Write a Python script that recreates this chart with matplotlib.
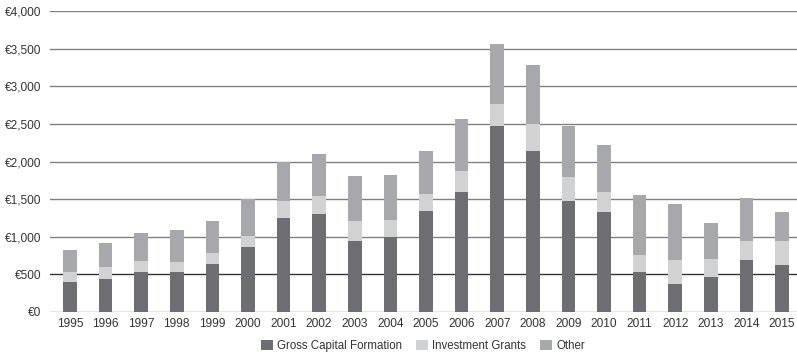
import numpy as np
import matplotlib
matplotlib.use("Agg")
import matplotlib.pyplot as plt
from matplotlib.ticker import FuncFormatter

years = list(range(1995, 2016))
# values in millions of euro, stacked: gross capital formation, investment grants, other
gross_capital = [395, 435, 528, 528, 634, 861, 1246, 1300, 940, 994, 1339,
                 1592, 2469, 2138, 1473, 1326, 528, 368, 461, 688, 621]
invest_grants = [133, 160, 146, 133, 147, 146, 227, 239, 266, 226, 227,
                 279, 293, 359, 318, 266, 226, 320, 240, 252, 319]
other = [292, 319, 373, 426, 425, 492, 518, 559, 599, 598, 572,
         692, 799, 784, 678, 624, 798, 744, 479, 572, 386]

c_gcf = "#6d6e71"
c_ig = "#d1d2d4"
c_oth = "#a7a8ab"

plt.rcParams["font.family"] = ["Liberation Sans", "DejaVu Sans"]

fig = plt.figure(figsize=(7.97, 3.55), dpi=100)
ax = fig.add_axes([50/797, 1 - 312/355, 747/797, 301/355])

x = np.arange(len(years))
w = 0.385
gcf = np.array(gross_capital)
ig = np.array(invest_grants)
oth = np.array(other)

ax.set_ylim(0, 4000)
ax.set_xlim(-0.56, len(years) - 1 + 0.42)

for yv in range(0, 4001, 500):
    ax.axhline(yv, color="#333333" if yv == 500 else "#808080", lw=1.0, zorder=1)

ax.bar(x, gcf, w, color=c_gcf, label="Gross Capital Formation", zorder=2)
ax.bar(x, ig, w, bottom=gcf, color=c_ig, label="Investment Grants", zorder=2)
ax.bar(x, oth, w, bottom=gcf + ig, color=c_oth, label="Other", zorder=2)

ax.set_yticks(range(0, 4001, 500))
ax.yaxis.set_major_formatter(FuncFormatter(lambda v, p: "€{:,.0f}".format(v)))
ax.set_xticks(x)
ax.set_xticklabels([str(y) for y in years])
ax.tick_params(axis="both", length=0, labelsize=8.6, colors="#333333")
ax.tick_params(axis="y", pad=6)
ax.tick_params(axis="x", pad=4)
for s in ax.spines.values():
    s.set_visible(False)

fig.legend(loc="lower center", bbox_to_anchor=(0.531, -0.02), ncol=3, frameon=False,
           fontsize=8.3, handlelength=1.0, handleheight=1.0, handletextpad=0.4,
           columnspacing=1.2, labelcolor="#333333")

fig.savefig("out.png", dpi=100)
